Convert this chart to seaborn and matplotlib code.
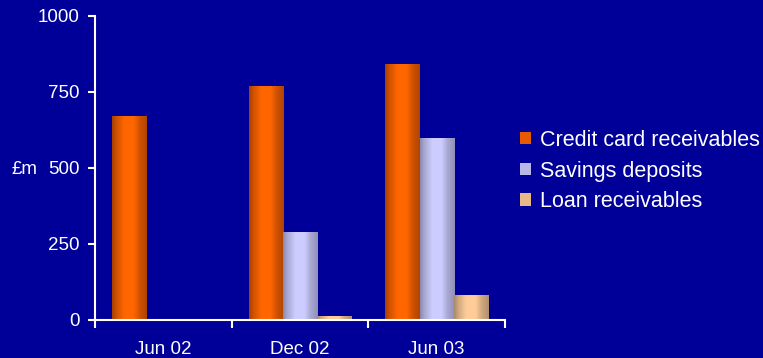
import numpy as np
import pandas as pd
import matplotlib
matplotlib.use("Agg")
import matplotlib.pyplot as plt
import seaborn as sns
from matplotlib.colors import LinearSegmentedColormap
from matplotlib.patches import Patch

categories = ["Jun 02", "Dec 02", "Jun 03"]
series = ["Credit card receivables", "Savings deposits", "Loan receivables"]
credit = [671, 771, 843]
savings = [0, 290, 600]
loan = [0, 14, 83]
yticks = [0, 250, 500, 750, 1000]

bg = "#000099"
mid_colors = ["#FF6600", "#CCCCFF", "#FFCC99"]
edge_colors = ["#A84000", "#8A8AAE", "#A88A6A"]
legend_colors = ["#E85A00", "#B8B8E8", "#E8B888"]

df = pd.DataFrame({
    "period": categories * 3,
    "series": [s for s in series for _ in categories],
    "value": credit + savings + loan,
})

sns.set_theme(style="white")
plt.rcParams["font.family"] = ["Liberation Sans", "DejaVu Sans"]

fig = plt.figure(figsize=(7.63, 3.58), dpi=100, facecolor=bg)
ax = fig.add_axes([95 / 763, 1 - 320 / 358, 410 / 763, 304 / 358])
ax.set_facecolor(bg)

sns.barplot(data=df, x="period", y="value", hue="series", order=categories,
            hue_order=series, palette=mid_colors, width=0.75, gap=0,
            linewidth=0, ax=ax, legend=False)

# gradient fill over each bar
prof_x = [0.0, 0.12, 0.35, 0.62, 0.8, 1.0]
prof_w = [0.0, 0.45, 1.0, 1.0, 0.45, 0.1]
for i, patch in enumerate(ax.patches):
    si = i // len(categories)
    cmap = LinearSegmentedColormap.from_list(
        f"g{si}", [(0, edge_colors[si]), (1, mid_colors[si])])
    xs = np.linspace(0, 1, 64)
    vals = np.interp(xs, prof_x, prof_w)
    x0, y0 = patch.get_x(), patch.get_y()
    w, h = patch.get_width(), patch.get_height()
    if h <= 0:
        continue
    im = ax.imshow(vals[np.newaxis, :], cmap=cmap, vmin=0, vmax=1,
                   extent=[x0, x0 + w, y0, y0 + h], aspect="auto",
                   interpolation="bilinear", zorder=patch.get_zorder() + 0.1)
    im.set_clip_path(patch)

ax.set_xlim(-0.5, 2.5)
ax.set_ylim(0, 1000)
ax.set_yticks(yticks)
ax.set_yticklabels([str(v) for v in yticks])

ax.set_xticks(range(len(categories)))
ax.set_xticklabels(categories)
ax.set_xticks([-0.5, 0.5, 1.5, 2.5], minor=True)
ax.tick_params(axis="x", which="major", length=0, pad=15, labelsize=13.5,
               colors="white")
ax.tick_params(axis="x", which="minor", length=6, width=1.5, direction="out",
               color="white", bottom=True)
ax.tick_params(axis="y", which="major", length=5, width=1.5, direction="out",
               colors="white", labelsize=13.5, pad=6, left=True)

for side in ["top", "right"]:
    ax.spines[side].set_visible(False)
for side in ["left", "bottom"]:
    ax.spines[side].set_color("white")
    ax.spines[side].set_linewidth(1.5)

ax.set_xlabel("")
ax.set_ylabel("")
fig.text(12 / 763, 1 - 170 / 358, "£m", color="white", fontsize=13.5,
         va="center", ha="left")

handles = [Patch(facecolor=c, edgecolor="none") for c in legend_colors]
leg = fig.legend(handles, series, loc="center left",
                 bbox_to_anchor=(520 / 763, 1 - 171 / 358), frameon=False,
                 fontsize=15.5, labelcolor="white", handlelength=0.52,
                 handleheight=0.52, handletextpad=0.4, labelspacing=0.45,
                 borderpad=0, borderaxespad=0)

fig.savefig("out.png", dpi=100, facecolor=bg)
